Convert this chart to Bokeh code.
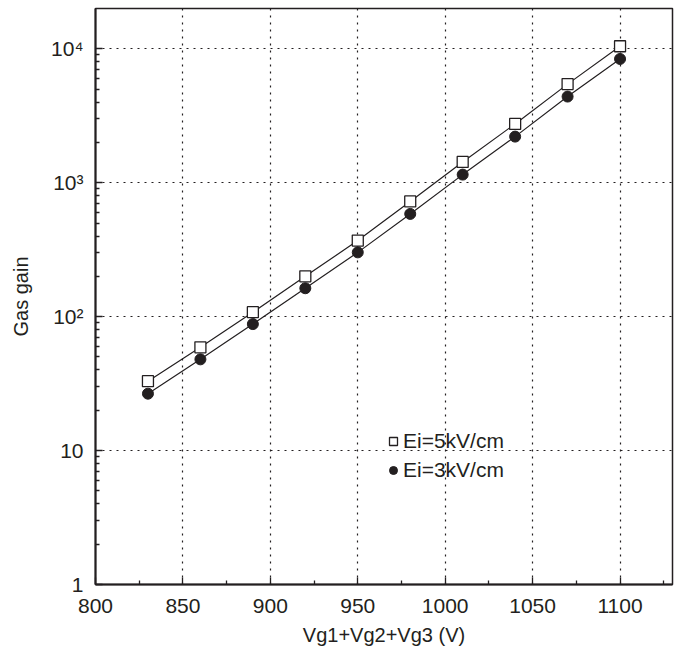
from bokeh.plotting import figure
from bokeh.models import FixedTicker, Legend, LegendItem, Range1d
from bokeh.embed import file_html
from bokeh.resources import INLINE

voltage = [830, 860, 890, 920, 950, 980, 1010, 1040, 1070, 1100]
gain_ei5 = [33, 59, 108, 200, 370, 725, 1430, 2750, 5450, 10450]
gain_ei3 = [26.6, 48, 88, 163, 302, 585, 1150, 2210, 4400, 8400]

x_ticks = [800, 850, 900, 950, 1000, 1050, 1100]
x_minor = [825, 875, 925, 975, 1025, 1075, 1125]
y_ticks = [1, 10, 100, 1000, 10000]
y_labels = {1: "1", 10: "10", 100: "10²", 1000: "10³", 10000: "10⁴"}
y_minor = [m * d for d in [1, 10, 100, 1000, 10000] for m in range(2, 10) if m * d < 20000]

ink = "#231f20"
font = "Liberation Sans"

p = figure(frame_width=577, frame_height=576, y_axis_type="log",
           x_range=Range1d(800, 1130), y_range=Range1d(1, 20000),
           output_backend="svg", toolbar_location=None,
           min_border_left=95, min_border_top=8, min_border_right=5, min_border_bottom=70)
p.background_fill_color = "white"
p.border_fill_color = "white"
p.outline_line_color = ink
p.outline_line_width = 1.5

p.xaxis.ticker = FixedTicker(ticks=x_ticks, minor_ticks=x_minor)
p.yaxis.ticker = FixedTicker(ticks=y_ticks, minor_ticks=y_minor)
p.yaxis.major_label_overrides = y_labels

for ax in (p.xaxis, p.yaxis):
    ax.axis_line_color = ink
    ax.axis_line_width = 2
    ax.major_tick_in = 7
    ax.major_tick_out = 0
    ax.minor_tick_in = 4
    ax.minor_tick_out = 0
    ax.major_tick_line_color = ink
    ax.minor_tick_line_color = ink
    ax.major_tick_line_width = 1.3
    ax.minor_tick_line_width = 1.3
    ax.major_label_text_font = font
    ax.major_label_text_font_size = "21px"
    ax.major_label_text_color = ink
    ax.axis_label_text_font = font
    ax.axis_label_text_font_size = "20px"
    ax.axis_label_text_font_style = "normal"
    ax.axis_label_text_color = ink

p.xaxis.axis_label = "Vg1+Vg2+Vg3 (V)"
p.yaxis.axis_label = "Gas gain"
p.xaxis.major_label_standoff = 14
p.yaxis.major_label_standoff = 12
p.xaxis.axis_label_standoff = 8
p.yaxis.axis_label_standoff = 16

for g in (p.xgrid, p.ygrid):
    g.grid_line_color = ink
    g.grid_line_dash = "2 5"
    g.grid_line_width = 1.2

p.line(voltage, gain_ei5, line_color=ink, line_width=1.2)
p.line(voltage, gain_ei3, line_color=ink, line_width=1.2)
r5 = p.scatter(voltage, gain_ei5, marker="square", size=11, fill_color="white",
               line_color=ink, line_width=1.3)
r3 = p.scatter(voltage, gain_ei3, marker="circle", size=11, fill_color=ink,
               line_color=ink)

legend = Legend(items=[LegendItem(label="Ei=5kV/cm", renderers=[r5]),
                       LegendItem(label="Ei=3kV/cm", renderers=[r3])],
                location=(288, 101))
legend.border_line_alpha = 0
legend.background_fill_alpha = 0
legend.glyph_width = 20
legend.glyph_height = 20
legend.label_standoff = -1
legend.spacing = 3
legend.label_height = 26
legend.padding = 0
legend.margin = 0
legend.label_text_font = font
legend.label_text_font_size = "21px"
legend.label_text_color = ink
p.add_layout(legend, "center")

open("out.html", "w").write(file_html(p, INLINE))
